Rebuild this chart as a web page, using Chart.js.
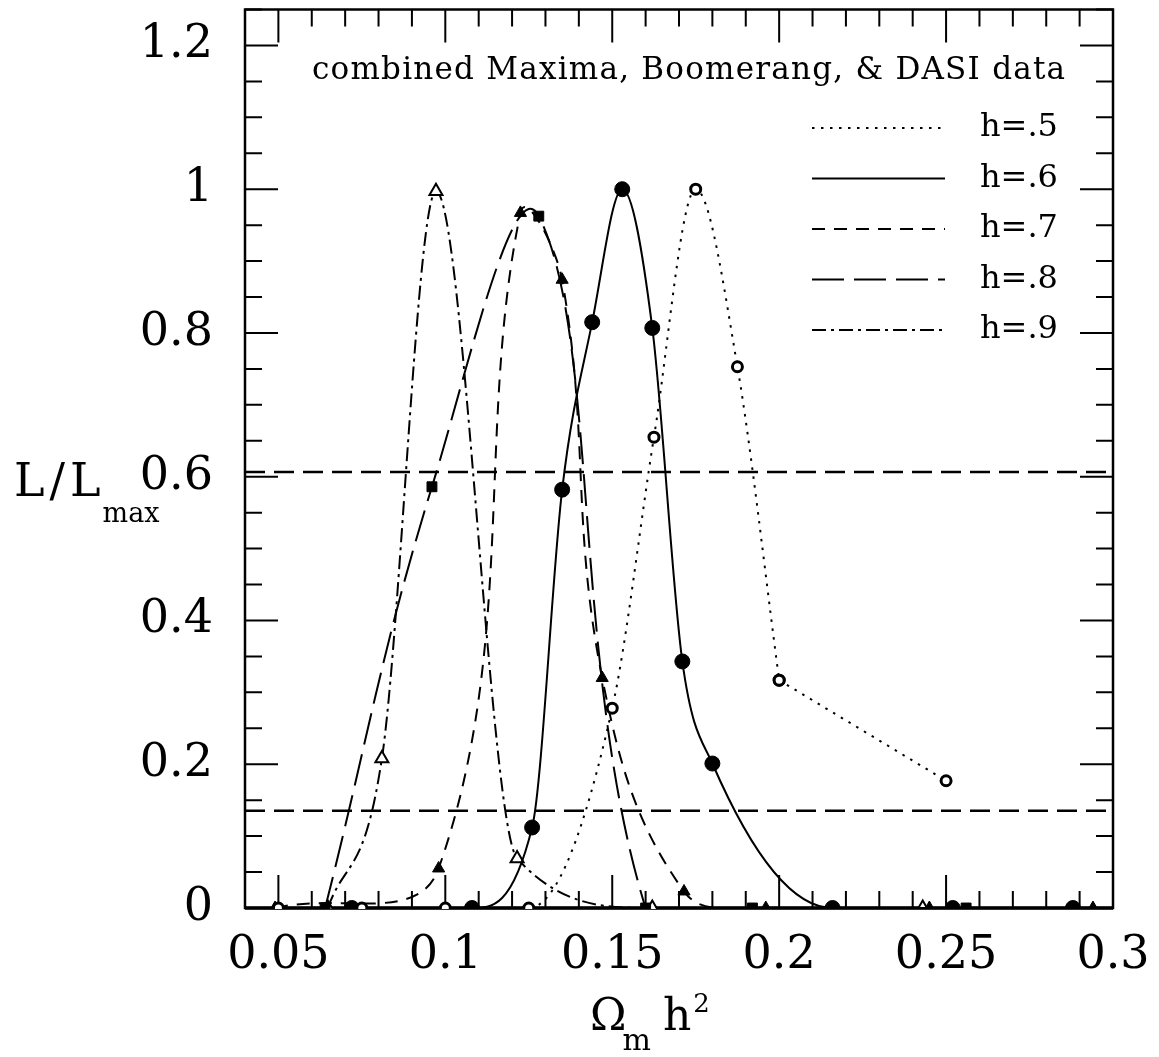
<!DOCTYPE html>
<html>
<head>
<meta charset="utf-8">
<script src="https://cdn.jsdelivr.net/npm/chart.js@4.4.1/dist/chart.umd.min.js"></script>
<style>
  html, body { margin: 0; padding: 0; background: #fff; }
  canvas { display: block; }
</style>
</head>
<body>
<canvas id="likeChart" width="1159" height="1057"></canvas>
<script>
// Omega_m h^2 grid points and normalised likelihood, one pair of arrays per h
const omh2H5 = [0.05, 0.075, 0.1, 0.125, 0.15, 0.1625, 0.175, 0.1875, 0.2, 0.25];
const likeH5 = [0, 0, 0, 0, 0.278, 0.655, 1.0, 0.753, 0.317, 0.177];

const omh2H6 = [0.072, 0.108, 0.126, 0.135, 0.144, 0.153, 0.162, 0.171, 0.18, 0.216, 0.252, 0.288];
const likeH6 = [0, 0, 0.112, 0.582, 0.815, 1.0, 0.807, 0.343, 0.201, 0, 0, 0];

const omh2H7 = [0.049, 0.098, 0.1225, 0.135, 0.147, 0.1715, 0.196, 0.245, 0.294];
const likeH7 = [0, 0.055, 0.967, 0.874, 0.32, 0.023, 0, 0, 0];

const omh2H8 = [0.064, 0.096, 0.128, 0.16, 0.192, 0.256];
const likeH8 = [0, 0.586, 0.9625, 0, 0, 0];

const omh2H9 = [0.0648, 0.081, 0.0972, 0.1215, 0.162, 0.243];
const likeH9 = [0, 0.208, 0.997, 0.069, 0, 0];

const seriesLabels = ['h=.5', 'h=.6', 'h=.7', 'h=.8', 'h=.9'];

// h=.5 is only splined up to this point, the last stretch is a straight line
const h5SplineEnd = 9;

// 1 and 2 sigma likelihood levels, drawn across the whole x range
const sigmaLevels = [0.6065, 0.1353];
const levelSpan = [0.04, 0.3];

const xTickLabels = ['0.05', '0.1', '0.15', '0.2', '0.25', '0.3'];
const yTickLabels = ['0', '0.2', '0.4', '0.6', '0.8', '1', '1.2'];
const noteText = 'combined Maxima, Boomerang, & DASI data';

const FONT = '"DejaVu Serif", "Liberation Serif", serif';

function toPoints(xs, ys) {
    return xs.map((x, i) => ({ x: x, y: ys[i] }));
}

function labelFor(list, v) {
    const hit = list.find(s => Math.abs(parseFloat(s) - v) < 1e-6);
    return hit === undefined ? '' : hit;
}

function curve(label, pts, dash, style, filled, radius, smooth) {
    return {
        label: label,
        data: pts,
        borderColor: '#000',
        borderWidth: 2,
        borderDash: dash,
        tension: 0.4,
        cubicInterpolationMode: smooth,
        fill: false,
        pointStyle: style,
        pointRadius: radius,
        pointBackgroundColor: filled ? '#000' : '#fff',
        pointBorderColor: '#000',
        pointBorderWidth: filled ? 1 : (style === 'circle' ? 3 : 2),
        clip: 1
    };
}

const h5Points = toPoints(omh2H5, likeH5);

const datasets = [
    curve(seriesLabels[0], h5Points.slice(0, h5SplineEnd), [2.5, 6.5], 'circle', false, 5, 'monotone'),
    curve(seriesLabels[1], toPoints(omh2H6, likeH6), [], 'circle', true, 7.5, 'monotone'),
    curve(seriesLabels[2], toPoints(omh2H7, likeH7), [13, 9], 'triangle', true, 7, 'default'),
    curve(seriesLabels[3], toPoints(omh2H8, likeH8), [32, 10], 'rect', true, 7, 'default'),
    curve(seriesLabels[4], toPoints(omh2H9, likeH9), [14, 5, 3, 5], 'triangle', false, 7.5, 'monotone')
];

// straight tail of the h=.5 curve (no legend entry)
const h5Tail = curve(undefined, h5Points.slice(h5SplineEnd - 1), [2.5, 6.5], 'circle', false, 5, 'default');
h5Tail.tension = 0;
datasets.push(h5Tail);

sigmaLevels.forEach(lev => {
    datasets.push({
        data: toPoints(levelSpan, [lev, lev]),
        borderColor: '#000',
        borderWidth: 2.5,
        borderDash: [20, 9],
        pointRadius: 0,
        tension: 0,
        clip: 0
    });
});

// inward tick marks on all four sides plus the frame
const frameTicks = {
    id: 'frameTicks',
    beforeDatasetsDraw(chart) {
        const { ctx, chartArea: a, scales: { x, y } } = chart;
        ctx.save();
        ctx.strokeStyle = '#000';
        ctx.lineWidth = 2;
        ctx.beginPath();
        x.ticks.forEach(t => {
            const px = x.getPixelForValue(t.value);
            const len = labelFor(xTickLabels, t.value) ? 33 : 17;
            ctx.moveTo(px, a.bottom); ctx.lineTo(px, a.bottom - len);
            ctx.moveTo(px, a.top); ctx.lineTo(px, a.top + len);
        });
        y.ticks.forEach(t => {
            const py = y.getPixelForValue(t.value);
            const len = labelFor(yTickLabels, t.value) ? 33 : 17;
            ctx.moveTo(a.left, py); ctx.lineTo(a.left + len, py);
            ctx.moveTo(a.right, py); ctx.lineTo(a.right - len, py);
        });
        ctx.stroke();
        ctx.lineWidth = 2.5;
        ctx.strokeRect(a.left, a.top, a.right - a.left, a.bottom - a.top);
        ctx.lineWidth = 3.5;
        ctx.beginPath();
        ctx.moveTo(a.left, a.bottom); ctx.lineTo(a.right, a.bottom);
        ctx.stroke();
        ctx.restore();
    }
};

// caption, legend rows and the two axis titles (with sub/superscripts)
const annotations = {
    id: 'annotations',
    afterDraw(chart) {
        const ctx = chart.ctx;
        ctx.save();
        ctx.fillStyle = '#000';
        ctx.strokeStyle = '#000';

        ctx.font = '31px ' + FONT;
        ctx.textBaseline = 'alphabetic';
        ctx.textAlign = 'left';
        const w = ctx.measureText(noteText).width;
        ctx.letterSpacing = ((753 - w) / (noteText.length - 1)).toFixed(2) + 'px';
        ctx.fillText(noteText, 312, 79);
        ctx.letterSpacing = '0px';

        let row = 0;
        chart.data.datasets.forEach(ds => {
            if (!ds.label) return;
            const yy = 128 + row * 50.5;
            ctx.lineWidth = ds.borderWidth;
            ctx.setLineDash(ds.borderDash || []);
            ctx.beginPath();
            ctx.moveTo(812, yy); ctx.lineTo(945, yy);
            ctx.stroke();
            ctx.setLineDash([]);
            ctx.font = '32px ' + FONT;
            ctx.textBaseline = 'middle';
            ctx.fillText(ds.label, 980, yy);
            row++;
        });

        // y title  L/L_max
        ctx.textBaseline = 'alphabetic';
        ctx.font = '46px ' + FONT;
        ctx.letterSpacing = '5px';
        ctx.fillText('L/L', 14, 496);
        const lw = ctx.measureText('L/L').width;
        ctx.letterSpacing = '0px';
        ctx.font = '27px ' + FONT;
        ctx.fillText('max', 14 + lw - 3, 522);

        // x title  Omega_m h^2
        ctx.font = '44px ' + FONT;
        ctx.fillText('\u03A9', 590, 1030);
        const ow = ctx.measureText('\u03A9').width;
        ctx.font = '30px ' + FONT;
        ctx.fillText('m', 590 + ow - 4, 1050);
        ctx.font = '44px ' + FONT;
        ctx.fillText('h', 663, 1030);
        const hw = ctx.measureText('h').width;
        ctx.font = '26px ' + FONT;
        ctx.fillText('2', 663 + hw + 2, 1012);
        ctx.restore();
    }
};

new Chart(document.getElementById('likeChart').getContext('2d'), {
    type: 'line',
    data: { datasets: datasets },
    plugins: [frameTicks, annotations],
    options: {
        responsive: false,
        animation: false,
        devicePixelRatio: 1,
        layout: { padding: { top: 8, right: 46, bottom: 0, left: 0 } },
        elements: { line: { capBezierPoints: false } },
        plugins: {
            legend: { display: false },
            tooltip: { enabled: false },
            title: { display: false }
        },
        scales: {
            x: {
                type: 'linear',
                min: 0.04,
                max: 0.3,
                grid: { display: false, drawTicks: false },
                border: { display: false },
                ticks: {
                    stepSize: 0.01,
                    maxTicksLimit: 100,
                    autoSkip: false,
                    maxRotation: 0,
                    padding: 20,
                    color: '#000',
                    font: { family: FONT, size: 46 },
                    callback: v => labelFor(xTickLabels, v)
                },
                afterFit(scale) {
                    scale.height = 149;
                    scale.paddingLeft = 0;
                    scale.paddingRight = 0;
                }
            },
            y: {
                type: 'linear',
                min: 0,
                max: 1.25,
                grid: { display: false, drawTicks: false },
                border: { display: false },
                ticks: {
                    stepSize: 0.05,
                    maxTicksLimit: 100,
                    autoSkip: false,
                    padding: 32,
                    color: '#000',
                    font: { family: FONT, size: 46 },
                    callback: v => labelFor(yTickLabels, v)
                },
                afterFit(scale) {
                    scale.width = 245;
                    scale.paddingTop = 0;
                    scale.paddingBottom = 0;
                }
            }
        }
    }
});
</script>
</body>
</html>
